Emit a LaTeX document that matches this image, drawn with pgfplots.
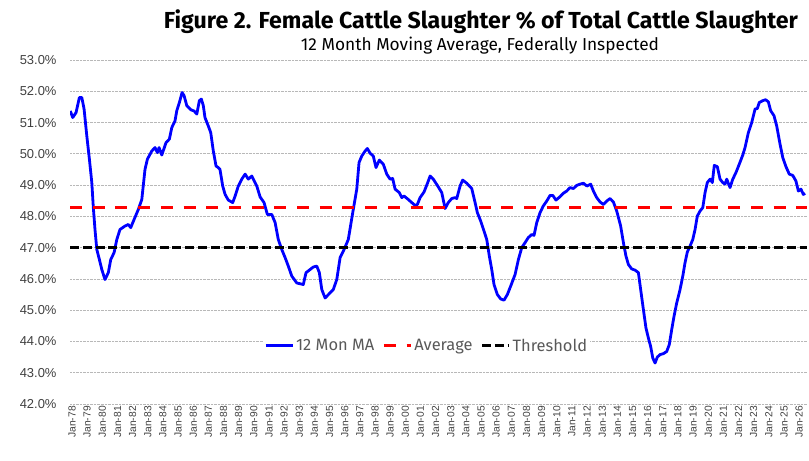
\documentclass[border=0pt]{standalone}
\usepackage{fontspec}
\setmainfont{Liberation Sans}
\newfontfamily\aptos{Fira Sans}
\usepackage{graphicx}
\usepackage{pgfplots}
\pgfplotsset{compat=1.18}
\definecolor{tickgray}{HTML}{404040}
\definecolor{leggray}{HTML}{595959}
\definecolor{gridgray}{HTML}{B8B8B8}
\begin{document}
\begin{tikzpicture}
\useasboundingbox (0bp,0bp) rectangle (809bp,461bp);
\begin{axis}[
  at={(70bp,57bp)}, anchor=south west,
  scale only axis, width=737bp, height=344bp,
  xmin=1977.93, xmax=2026.58, ymin=42, ymax=53,
  axis line style={draw=none},
  major tick length=0pt,
  ymajorgrids=true,
  major grid style={gridgray, densely dotted, line width=0.7bp},
  ytick={42,...,53},
  yticklabels={42.0\%,43.0\%,44.0\%,45.0\%,46.0\%,47.0\%,48.0\%,49.0\%,50.0\%,51.0\%,52.0\%,53.0\%},
  yticklabel style={font=\fontsize{13}{15}\selectfont, text=tickgray, anchor=east, xshift=-10bp},
  xtick={1978,...,2026},
  xticklabels={Jan-78,Jan-79,Jan-80,Jan-81,Jan-82,Jan-83,Jan-84,Jan-85,Jan-86,Jan-87,Jan-88,Jan-89,Jan-90,Jan-91,Jan-92,Jan-93,Jan-94,Jan-95,Jan-96,Jan-97,Jan-98,Jan-99,Jan-00,Jan-01,Jan-02,Jan-03,Jan-04,Jan-05,Jan-06,Jan-07,Jan-08,Jan-09,Jan-10,Jan-11,Jan-12,Jan-13,Jan-14,Jan-15,Jan-16,Jan-17,Jan-18,Jan-19,Jan-20,Jan-21,Jan-22,Jan-23,Jan-24,Jan-25,Jan-26},
  xticklabel style={font=\fontsize{10.3}{12}\selectfont, text=tickgray, rotate=90, anchor=east, inner sep=2bp, yshift=-1bp},
  legend style={at={(0.484,0.169)}, anchor=center, legend columns=3, draw=none, fill=white,
    font=\aptos\fontsize{16.5}{19}\selectfont, text=leggray, inner sep=1bp,
    /tikz/every even column/.append style={column sep=6bp}},
  legend cell align=left,
  legend image code/.code={\draw[#1] (0bp,0bp) -- (27bp,0bp);},
]
\addplot[color={rgb,255:red,0;green,0;blue,255}, line width=2.8bp, line join=round] coordinates {
(1977.95,51.37) (1978.11,51.16) (1978.33,51.32) (1978.55,51.80) (1978.71,51.80) (1978.86,51.43)
(1979.04,50.57) (1979.21,49.83) (1979.37,49.08) (1979.47,48.28) (1979.58,47.58) (1979.70,46.94)
(1979.87,46.62) (1980.03,46.30) (1980.24,45.98) (1980.46,46.20) (1980.62,46.62) (1980.84,46.84)
(1981.02,47.26) (1981.23,47.58) (1981.56,47.69) (1981.78,47.74) (1981.94,47.64) (1982.16,47.90)
(1982.44,48.22) (1982.67,48.54) (1982.88,49.50) (1983.04,49.83) (1983.33,50.09) (1983.54,50.20)
(1983.70,50.04) (1983.81,50.20) (1983.99,49.96) (1984.27,50.36) (1984.49,50.47) (1984.65,50.84)
(1984.86,51.05) (1984.98,51.38) (1985.15,51.64) (1985.33,51.96) (1985.46,51.86) (1985.64,51.54)
(1985.90,51.41) (1986.12,51.37) (1986.30,51.27) (1986.47,51.70) (1986.60,51.75) (1986.73,51.54)
(1986.84,51.16) (1987.06,50.89) (1987.22,50.68) (1987.39,50.09) (1987.57,49.61) (1987.72,49.56)
(1987.83,49.50) (1988.01,48.97) (1988.17,48.70) (1988.38,48.52) (1988.67,48.44) (1988.83,48.65)
(1989.04,48.97) (1989.27,49.19) (1989.49,49.35) (1989.70,49.19) (1989.93,49.29) (1990.26,48.97)
(1990.48,48.62) (1990.74,48.44) (1990.96,48.06) (1991.25,48.06) (1991.47,47.80) (1991.68,47.26)
(1991.91,46.94) (1992.13,46.68) (1992.34,46.41) (1992.57,46.09) (1992.90,45.87) (1993.33,45.82)
(1993.51,46.20) (1993.78,46.30) (1993.99,46.38) (1994.22,46.41) (1994.39,46.20) (1994.55,45.66)
(1994.77,45.39) (1995.05,45.53) (1995.31,45.66) (1995.54,45.98) (1995.76,46.68) (1996.02,46.94)
(1996.30,47.26) (1996.63,48.22) (1996.86,48.87) (1997.01,49.72) (1997.19,49.93) (1997.41,50.09)
(1997.56,50.17) (1997.74,50.02) (1997.95,49.93) (1998.13,49.56) (1998.35,49.80) (1998.61,49.67)
(1998.84,49.35) (1999.06,49.19) (1999.23,49.21) (1999.39,48.87) (1999.67,48.76) (1999.83,48.60)
(1999.98,48.65) (2000.26,48.54) (2000.49,48.44) (2000.71,48.35) (2000.86,48.38) (2001.04,48.60)
(2001.30,48.78) (2001.52,49.05) (2001.70,49.29) (2001.91,49.19) (2002.18,48.99) (2002.47,48.76)
(2002.69,48.25) (2002.90,48.44) (2003.13,48.57) (2003.35,48.60) (2003.46,48.57) (2003.68,48.97)
(2003.85,49.16) (2004.12,49.06) (2004.45,48.89) (2004.67,48.44) (2004.82,48.12) (2005.04,47.85)
(2005.26,47.53) (2005.44,47.26) (2005.61,46.73) (2005.77,46.30) (2005.92,45.82) (2006.14,45.50)
(2006.36,45.36) (2006.58,45.32) (2006.80,45.50) (2007.02,45.77) (2007.31,46.14) (2007.53,46.62)
(2007.75,47.00) (2007.97,47.16) (2008.18,47.32) (2008.41,47.42) (2008.56,47.39) (2008.74,47.80)
(2008.96,48.12) (2009.17,48.33) (2009.40,48.49) (2009.62,48.67) (2009.80,48.67) (2010.01,48.52)
(2010.28,48.63) (2010.50,48.74) (2010.72,48.81) (2010.94,48.92) (2011.16,48.89) (2011.38,48.99)
(2011.60,49.03) (2011.82,49.06) (2012.05,48.97) (2012.30,49.03) (2012.48,48.81) (2012.70,48.60)
(2012.92,48.46) (2013.14,48.38) (2013.36,48.49) (2013.58,48.57) (2013.80,48.46) (2014.02,48.17)
(2014.28,47.69) (2014.46,47.16) (2014.63,46.73) (2014.79,46.46) (2015.01,46.32) (2015.23,46.28)
(2015.45,46.20) (2015.60,45.66) (2015.78,45.02) (2015.95,44.43) (2016.11,44.11) (2016.26,43.84)
(2016.40,43.47) (2016.55,43.31) (2016.70,43.50) (2016.88,43.58) (2017.10,43.61) (2017.32,43.68)
(2017.49,43.90) (2017.65,44.38) (2017.80,44.80) (2017.98,45.23) (2018.20,45.66) (2018.38,46.09)
(2018.53,46.52) (2018.68,46.86) (2018.86,47.05) (2019.04,47.26) (2019.19,47.58) (2019.34,48.01)
(2019.52,48.17) (2019.70,48.28) (2019.85,48.76) (2020.00,49.08) (2020.18,49.19) (2020.33,49.08)
(2020.46,49.63) (2020.66,49.59) (2020.84,49.19) (2021.02,49.08) (2021.17,49.03) (2021.28,49.19)
(2021.50,48.92) (2021.68,49.19) (2021.89,49.40) (2022.11,49.67) (2022.34,49.96) (2022.49,50.20)
(2022.71,50.68) (2022.93,51.00) (2023.15,51.43) (2023.30,51.45) (2023.43,51.64) (2023.66,51.70)
(2023.85,51.73) (2024.03,51.66) (2024.18,51.38) (2024.40,51.22) (2024.58,50.89) (2024.80,50.31)
(2024.98,49.88) (2025.19,49.59) (2025.41,49.35) (2025.64,49.31) (2025.85,49.13) (2026.01,48.81)
(2026.18,48.87) (2026.34,48.70) (2026.45,48.74)
};
\addlegendentry{12 Mon MA}
\addplot[color={rgb,255:red,255;green,0;blue,0}, line width=3bp, dash pattern=on 12bp off 10.7bp] coordinates {(1977.93,48.28) (2026.58,48.28)};
\addlegendentry{Average}
\addplot[black, line width=3.2bp, dash pattern=on 9bp off 3.8bp] coordinates {(1977.93,47.0) (2026.58,47.0)};
\addlegendentry{Threshold}
\end{axis}
\node[anchor=base, inner sep=0pt] at (481bp,432.7bp) {\resizebox{634bp}{!}{\aptos\bfseries\fontsize{20}{24}\selectfont Figure 2. Female Cattle Slaughter \% of Total Cattle Slaughter}};
\node[anchor=base, inner sep=0pt] at (480bp,410.3bp) {\resizebox{358bp}{!}{\aptos\fontsize{16}{19}\selectfont 12 Month Moving Average, Federally Inspected}};
\end{tikzpicture}
\end{document}
